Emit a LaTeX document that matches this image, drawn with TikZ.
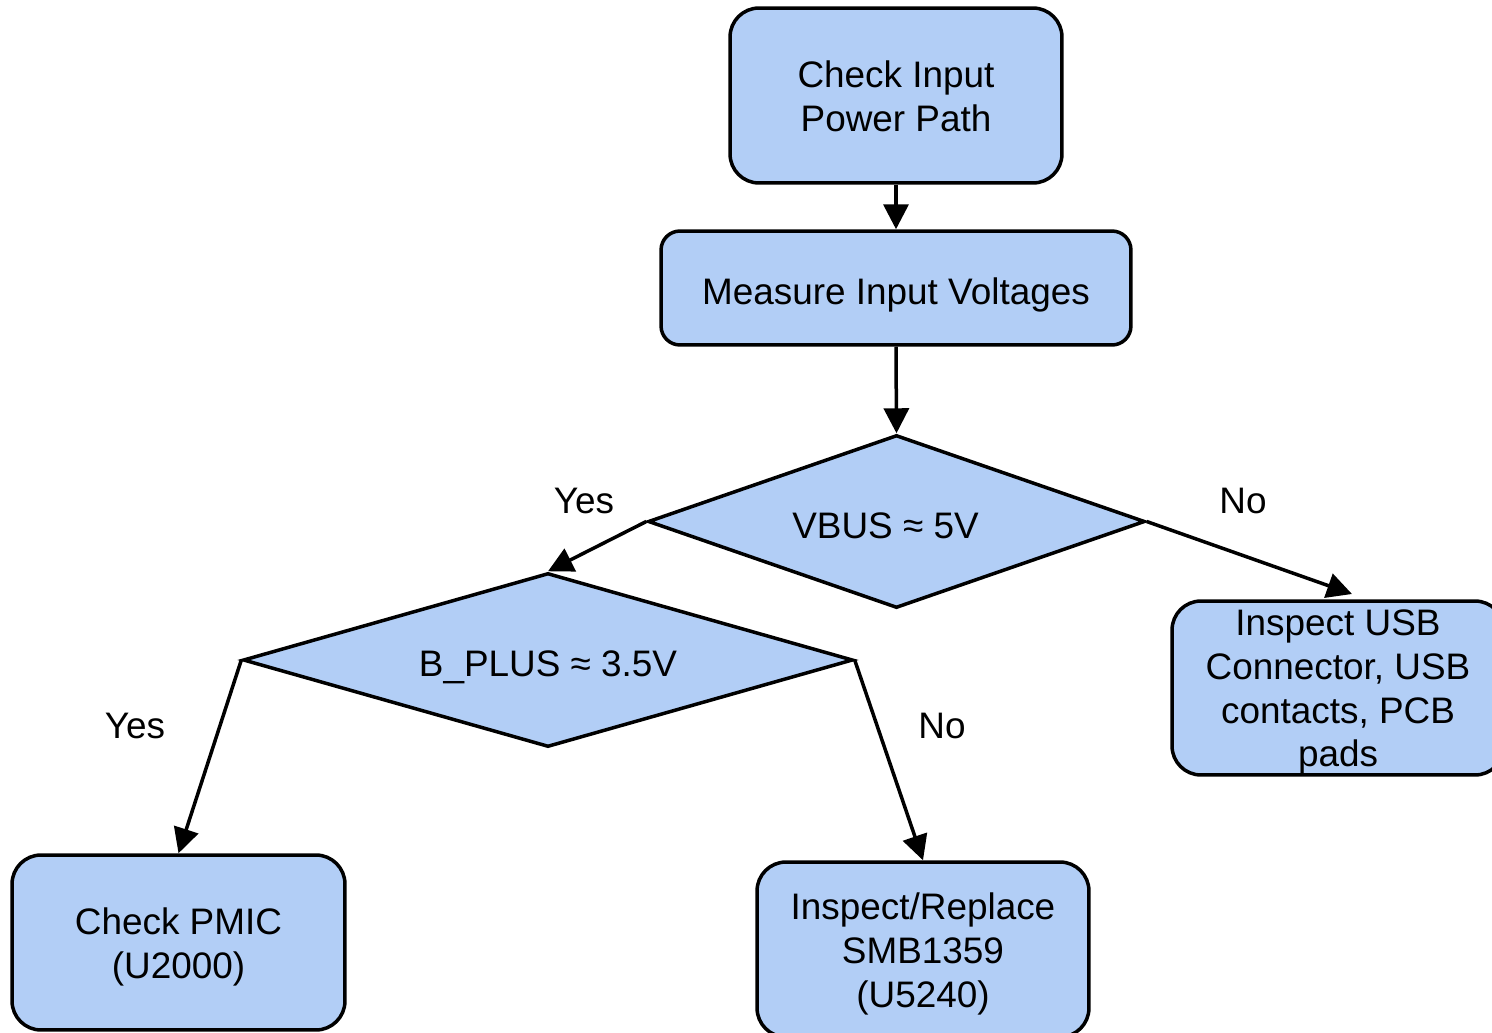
\documentclass[tikz,border=0pt]{standalone}
\usepackage{fontspec}
\setmainfont{Liberation Sans}
\usetikzlibrary{shapes.geometric,arrows.meta}
\definecolor{boxblue}{RGB}{178,206,246}
\newcommand\topstrut{\rule{0pt}{1.12em}}
\newcommand\mltstrut{\rule{0pt}{0.96em}}
\newcommand\botstrut{\rule[-0.212em]{0pt}{0.212em}}
\begin{document}
\begin{tikzpicture}[x=0.02cm,y=-0.02cm,
  txt/.style={font=\fontsize{21pt}{25pt}\selectfont},
  box/.style={txt, draw=black, line width=0.07cm, fill=boxblue, rounded corners=#1, align=center, inner sep=0pt},
  box/.default=0.58cm,
  dec/.style={txt, diamond, draw=black, line width=0.07cm, fill=boxblue, inner sep=0pt, align=center},
  arr/.style={line width=0.07cm, -{Triangle[length=0.5cm,width=0.5cm]}},
  lbl/.style={txt, inner sep=0pt}]
\useasboundingbox (0,0) rectangle (1492,1032);

\node[box, minimum width=6.64cm, minimum height=3.5cm] (A) at (896,95.5) {\mltstrut Check Input\\Power Path\botstrut};
\node[box=0.38cm, minimum width=9.4cm, minimum height=2.28cm] (B) at (896,288) {\topstrut Measure Input Voltages\botstrut};
\node[dec, aspect=2.87, minimum width=9.94cm, minimum height=3.46cm] (D1) at (896.5,521.5) {\topstrut VBUS ≈ 5V\hspace*{0.44cm}\botstrut};
\node[dec, aspect=3.5, minimum width=12.2cm, minimum height=3.48cm] (D2) at (548,660) {\topstrut B\_PLUS ≈ 3.5V\botstrut};
\node[box, minimum width=6.64cm, minimum height=3.48cm] (C) at (1338,688) {\rule{0pt}{0.92em}Inspect USB\\Connector, USB\\contacts, PCB\\pads\botstrut};
\node[box, minimum width=6.66cm, minimum height=3.5cm] (E) at (178.5,942.5) {\mltstrut Check PMIC\\(U2000)\botstrut};
\node[box, minimum width=6.64cm, minimum height=3.5cm] (F) at (923,949.5) {\mltstrut Inspect/Replace\\SMB1359\\(U5240)\botstrut};

\coordinate (Ctip) at (1352,594);

\draw[arr] (A.south) -- (B.north);
\draw[arr] (B.south) -- (D1.north);
\draw[arr] (D1.west) -- (D2.north);
\draw[arr] (D1.east) -- (Ctip);
\draw[arr] (D2.west) -- (E.north);
\draw[arr] (D2.east) -- (F.north);

\node[lbl] (y1) at (584,501) {Yes};
\node[lbl] (n1) at (1243,501) {No};
\node[lbl] (y2) at (135,726) {Yes};
\node[lbl] (n2) at (942,726) {No};
\end{tikzpicture}
\end{document}
